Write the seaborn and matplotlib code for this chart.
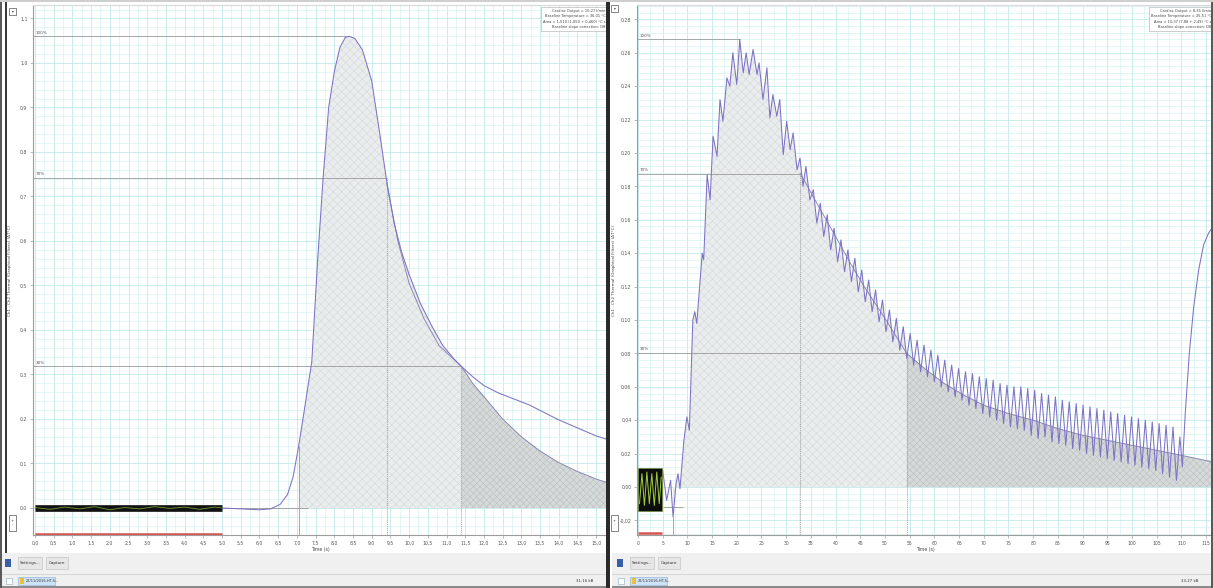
"""
Two thermodilution recordings side by side, drawn like the acquisition software window.
"""

import matplotlib

matplotlib.use("Agg")

import matplotlib.pyplot as plt
import numpy as np
import seaborn as sns
from matplotlib.patches import Rectangle
from matplotlib.ticker import FuncFormatter, MultipleLocator

W, H = 1213, 588

# ---- left recording (time in s, temperature change in °C) ----
left_time = [5.0, 5.5, 6.0, 6.3, 6.55, 6.75, 6.9, 7.05, 7.2, 7.4, 7.55, 7.7, 7.85, 8.0,
             8.15, 8.3, 8.4, 8.55, 8.75, 9.0, 9.2, 9.4, 9.6, 9.8, 10.0, 10.3, 10.6,
             10.9, 11.2, 11.4, 11.7, 12.0, 12.4, 12.8, 13.2, 13.6, 14.0, 14.5, 15.0, 15.3]
left_temp = [0.0, -0.002, -0.004, -0.002, 0.008, 0.03, 0.07, 0.14, 0.22, 0.33, 0.55, 0.74,
             0.9, 0.98, 1.035, 1.058, 1.06, 1.055, 1.03, 0.96, 0.85, 0.735, 0.64, 0.575,
             0.525, 0.46, 0.41, 0.365, 0.335, 0.318, 0.295, 0.275, 0.258, 0.245, 0.232,
             0.215, 0.198, 0.18, 0.162, 0.154]
left_fit_time = [9.4, 9.7, 10.0, 10.4, 10.8, 11.4, 11.7, 12.0, 12.5, 13.0, 13.5, 14.0,
                 14.5, 15.0, 15.3]
left_fit_temp = [0.73, 0.6, 0.505, 0.425, 0.365, 0.318, 0.28, 0.25, 0.2, 0.16, 0.128,
                 0.102, 0.082, 0.065, 0.057]
left_band_time = [0.0, 0.4, 0.8, 1.2, 1.6, 2.0, 2.4, 2.8, 3.2, 3.6, 4.0, 4.4, 4.8, 5.0]
left_band_temp = [0.001, -0.003, 0.002, -0.002, 0.003, -0.004, 0.001, -0.002, 0.003,
                  -0.001, 0.002, -0.003, 0.002, 0.0]
left_marks = {"start": 7.05, "t70": 9.4, "t30": 11.4, "peak": 1.06, "peak_t": 8.4}
left_info = ["Cardiac Output = 10,27 l/min", "Baseline Temperature = 36,01 °C",
             "Area = 1,510 (1,050 + 0,460) °C.s", "Baseline slope correction: Off"]

# ---- right recording ----
right_rise_time = [5.0, 5.8, 6.6, 7.1, 7.7, 8.1, 8.5, 9.3, 9.9, 10.4, 11.1, 11.5, 11.9,
                   13.0, 13.3, 14.0, 14.6, 15.2, 16.0, 16.6, 17.2, 18.0, 18.6, 19.2, 20.0,
                   20.6, 21.3, 21.9, 22.5, 23.3, 24.1, 24.5, 25.3, 26.1, 26.7, 27.3, 28.1,
                   28.7, 29.4, 30.1, 30.8, 31.4, 32.2, 32.8, 33.4, 34.0, 34.8]
right_rise_temp = [0.010, -0.008, 0.004, -0.018, 0.002, 0.008, -0.001, 0.028, 0.042,
                   0.034, 0.100, 0.105, 0.098, 0.140, 0.136, 0.187, 0.172, 0.210, 0.198,
                   0.232, 0.219, 0.245, 0.240, 0.260, 0.241, 0.268, 0.248, 0.260, 0.247,
                   0.262, 0.247, 0.254, 0.232, 0.251, 0.221, 0.235, 0.222, 0.232, 0.199,
                   0.219, 0.202, 0.212, 0.190, 0.197, 0.180, 0.192, 0.172]
# tail sampled every 0.7 s from 35.5 s
right_tail_start, right_tail_step = 35.5, 0.7
right_tail_temp = [
    0.178, 0.158, 0.170, 0.150, 0.163, 0.142, 0.155, 0.135, 0.148, 0.129, 0.142, 0.123,
    0.137, 0.117, 0.130, 0.111, 0.124, 0.105, 0.118, 0.099, 0.112, 0.093, 0.106, 0.087,
    0.101, 0.082, 0.096, 0.077, 0.092, 0.073, 0.088, 0.069, 0.085, 0.066, 0.082, 0.063,
    0.079, 0.060, 0.076, 0.057, 0.073, 0.054, 0.071, 0.052, 0.069, 0.049, 0.068, 0.047,
    0.066, 0.044, 0.065, 0.042, 0.064, 0.040, 0.062, 0.038, 0.061, 0.036, 0.060, 0.035,
    0.060, 0.034, 0.059, 0.031, 0.058, 0.029, 0.056, 0.030, 0.055, 0.027, 0.054, 0.026,
    0.052, 0.025, 0.051, 0.023, 0.050, 0.022, 0.049, 0.020, 0.048, 0.019, 0.047, 0.018,
    0.046, 0.017, 0.045, 0.016, 0.044, 0.015, 0.043, 0.014, 0.042, 0.013, 0.041, 0.012,
    0.040, 0.011, 0.039, 0.010, 0.038, 0.008, 0.037, 0.006, 0.036, 0.004, 0.030]
right_end_time = [110.2, 110.8, 111.6, 112.5, 113.5, 114.5, 115.5, 116.4]
right_end_temp = [0.012, 0.045, 0.080, 0.108, 0.130, 0.145, 0.152, 0.156]
right_fit_time = [32.8, 36.0, 40.0, 43.0, 46.0, 50.0, 54.4, 58.0, 62.0, 66.0, 70.0, 75.0,
                  80.0, 85.0, 90.0, 95.0, 100.0, 105.0, 110.0, 116.4]
right_fit_temp = [0.188, 0.171, 0.150, 0.134, 0.119, 0.101, 0.080, 0.071, 0.062, 0.055,
                  0.049, 0.044, 0.040, 0.035, 0.031, 0.028, 0.025, 0.022, 0.019, 0.015]
thumb_time = [0.3, 0.8, 1.3, 1.8, 2.3, 2.8, 3.3, 3.8, 4.3, 4.7]
thumb_temp = [-0.010, 0.008, -0.011, 0.009, -0.010, 0.008, -0.011, 0.009, -0.010, 0.006]
right_marks = {"start": 7.1, "t70": 32.8, "t30": 54.4, "peak": 0.268, "peak_t": 20.6}
right_info = ["Cardiac Output = 8,35 l/min", "Baseline Temperature = 35,51 °C",
              "Area = 10,37 (7,88 + 2,49) °C.s", "Baseline slope correction: Off"]

CURVE = "#7d72c4"
GRAY = "#9a9a9a"

sns.set_style("white")
plt.rcParams["font.family"] = ["DejaVu Sans"]
plt.rcParams["hatch.linewidth"] = 0.35

fig = plt.figure(figsize=(W / 100, H / 100), dpi=100, facecolor="white")


def px_axes(x0, y0, x1, y1):
    return fig.add_axes([x0 / W, 1 - y1 / H, (x1 - x0) / W, (y1 - y0) / H])


def px_rect(x0, y0, x1, y1, **kw):
    fig.add_artist(Rectangle((x0 / W, 1 - y1 / H), (x1 - x0) / W, (y1 - y0) / H,
                             transform=fig.transFigure, **kw))


def px_text(x, y, s, **kw):
    fig.text(x / W, 1 - y / H, s, **kw)


def comma(fmt):
    return FuncFormatter(lambda v, _: fmt.format(v).replace(".", ","))


def draw_panel(ax, t, v, fit_t, fit_v, marks, xlim, ylim, steps, fmts, info, label_x):
    t, v = np.asarray(t), np.asarray(v)
    fit_t, fit_v = np.asarray(fit_t), np.asarray(fit_v)
    ax.set_xlim(*xlim)
    ax.set_ylim(*ylim)
    ax.set_facecolor("white")

    xmaj, xmin, ymaj, ymin = steps
    ax.xaxis.set_major_locator(MultipleLocator(xmaj))
    ax.xaxis.set_minor_locator(MultipleLocator(xmin))
    ax.yaxis.set_major_locator(MultipleLocator(ymaj))
    ax.yaxis.set_minor_locator(MultipleLocator(ymin))
    ax.xaxis.set_major_formatter(comma(fmts[0]))
    ax.yaxis.set_major_formatter(comma(fmts[1]))
    ax.grid(which="major", color="#bce8e8", linewidth=0.55)
    ax.grid(which="minor", color="#d6f3f3", linewidth=0.5)
    ax.set_axisbelow(True)
    ax.tick_params(which="major", labelsize=3.3, length=2, width=0.4, color="#888888",
                   labelcolor="#555555", pad=2, bottom=True, left=True)
    ax.tick_params(which="minor", length=0)
    for side, sp in ax.spines.items():
        sp.set_color("#9c9c9c" if side in ("left", "bottom") else "#d8d8d8")
        sp.set_linewidth(0.8)

    # shaded areas: measured part, then extrapolated tail
    m = (t >= marks["start"]) & (t <= marks["t30"])
    ax.fill_between(t[m], 0, v[m], facecolor="#eaeded", edgecolor="#d2d7d7",
                    hatch="xxxx", linewidth=0, zorder=1)
    fm = fit_t >= marks["t30"]
    ax.fill_between(fit_t[fm], 0, fit_v[fm], facecolor="#d5d9d9", edgecolor="#b8bebe",
                    hatch="xxxxx", linewidth=0, zorder=1)

    # percentage levels and markers
    peak = marks["peak"]
    for frac, tx, lab in [(1.0, marks["peak_t"], "100%"), (0.7, marks["t70"], "70%"),
                          (0.3, marks["t30"], "30%")]:
        ax.hlines(frac * peak, xlim[0], tx, color=GRAY, linewidth=0.6, zorder=2)
        ax.annotate(lab, (xlim[0], frac * peak), xytext=(2, 1), textcoords="offset points",
                    fontsize=3, color="#555555", va="bottom")
    ax.vlines(marks["start"], ylim[0], np.interp(marks["start"], t, v), color=GRAY,
              linewidth=0.6, zorder=2)
    ax.vlines(marks["t70"], ylim[0], 0.7 * peak, color=GRAY, linewidth=0.5,
              linestyle=(0, (2, 1)), zorder=2)
    ax.vlines(marks["t30"], ylim[0], 0.3 * peak, color=GRAY, linewidth=0.5,
              linestyle=(0, (2, 1)), zorder=2)

    sns.lineplot(x=fit_t, y=fit_v, ax=ax, color="#8c88b4", linewidth=0.7,
                 estimator=None, sort=False, zorder=3)
    sns.lineplot(x=t, y=v, ax=ax, color=CURVE, linewidth=0.75,
                 estimator=None, sort=False, zorder=4)

    ax.set_xlabel("Time (s)", fontsize=3.3, color="#444444", labelpad=1)
    ax.set_ylabel("Ch1 - Ch2 Thermal (Graphical Filters) (ΔT°C)", fontsize=3,
                  color="#444444")
    ax.yaxis.set_label_coords(label_x, 0.5)

    # info box in the top-right corner
    ax.text(0.997, 0.993, "\n".join(info), transform=ax.transAxes, ha="right", va="top",
            fontsize=2.6, color="#444444", linespacing=1.5, zorder=6,
            bbox=dict(boxstyle="square,pad=0.4", facecolor="white", edgecolor="#aaaaaa",
                      linewidth=0.4))


# ---------------- left panel ----------------
axl = px_axes(33, 5, 607, 535)
draw_panel(axl, left_time, left_temp, left_fit_time, left_fit_temp, left_marks,
           xlim=(-0.053, 15.29), ylim=(-0.0607, 1.1303), steps=(0.5, 0.25, 0.1, 0.02),
           fmts=("{:.1f}", "{:.1f}"), info=left_info, label_x=-21 / 574)
axl.hlines(0, 5.0, 7.3, color=GRAY, linewidth=0.6, zorder=2)
axl.plot([0.0, 5.0], [0.0, 0.0], color="#111111", linewidth=4.8,
         solid_capstyle="butt", zorder=5)
sns.lineplot(x=left_band_time, y=left_band_temp, ax=axl, color="#6f9a3a", linewidth=0.6,
             estimator=None, sort=False, zorder=5)
axl.hlines(-0.0585, 0.0, 5.0, color="#d9534f", linewidth=1.8, zorder=5)

# ---------------- right panel ----------------
tail_time = right_tail_start + right_tail_step * np.arange(len(right_tail_temp))
right_time = np.concatenate([right_rise_time, tail_time, right_end_time])
right_temp = np.concatenate([right_rise_temp, right_tail_temp, right_end_temp])
axr = px_axes(637, 5, 1213, 535)
draw_panel(axr, right_time, right_temp, right_fit_time, right_fit_temp, right_marks,
           xlim=(-0.2, 116.4), ylim=(-0.0287, 0.2886), steps=(5, 2.5, 0.02, 0.004),
           fmts=("{:.0f}", "{:.2f}"), info=right_info, label_x=-21 / 576)
axr.hlines(-0.012, 5.06, 9.1, color="#8fa27a", linewidth=0.6, zorder=3)
axr.add_patch(Rectangle((0.0, -0.0144), 4.9, 0.0258, facecolor="#0d0d0d",
                        edgecolor="#6a8a3a", linewidth=0.5, zorder=5))
sns.lineplot(x=thumb_time, y=thumb_temp, ax=axr, color="#9fcf3a", linewidth=0.7,
             estimator=None, sort=False, zorder=6)
axr.hlines(-0.0278, 0.0, 4.9, color="#d9534f", linewidth=1.8, zorder=5)

# ---------------- window chrome ----------------
for x0, x1 in [(0, 608), (612, 1213)]:
    px_rect(x0, 553, x1, 588, facecolor="#f0f0f0", edgecolor="none")
    px_rect(x0, 574, x1, 575, facecolor="#d6d6d6", edgecolor="none")
    px_rect(x0, 586, x1, 588, facecolor="#8a8a8a", edgecolor="none")
    px_rect(x0 + 18, 557, x0 + 42, 569, facecolor="#e6e6e6", edgecolor="#bdbdbd",
            linewidth=0.4)
    px_text(x0 + 30, 563, "Settings...", fontsize=3, ha="center", va="center",
            color="#333333")
    px_rect(x0 + 46, 557, x0 + 68, 569, facecolor="#e6e6e6", edgecolor="#bdbdbd",
            linewidth=0.4)
    px_text(x0 + 57, 563, "Capture", fontsize=3, ha="center", va="center", color="#333333")
    px_rect(x0 + 5, 559, x0 + 11, 567, facecolor="#3b5ea8", edgecolor="none")
    px_rect(x0 + 18, 577, x0 + 55, 585, facecolor="#cfe3f7", edgecolor="#7fa7d6",
            linewidth=0.4)
    px_rect(x0 + 20, 578, x0 + 24, 584, facecolor="#e8c33a", edgecolor="none")
    px_text(x0 + 26, 581, "22/11/2016-HT-S...", fontsize=2.6, va="center", color="#333333")
    px_rect(x0 + 6, 578, x0 + 12, 584, facecolor="#ffffff", edgecolor="#8aa8c8",
            linewidth=0.4)

px_text(585, 581, "31,16 kB", fontsize=2.8, ha="center", va="center", color="#333333")
px_text(1190, 581, "33,27 kB", fontsize=2.8, ha="center", va="center", color="#333333")

# borders and dividers
px_rect(0, 0, 2, 588, facecolor="#5a5a5a", edgecolor="none")
px_rect(5, 0, 7, 553, facecolor="#3a3a3a", edgecolor="none")
px_rect(606, 0, 610, 588, facecolor="#2a2a2a", edgecolor="none")
px_rect(1211, 0, 1213, 588, facecolor="#5a5a5a", edgecolor="none")
px_rect(0, 0, 1213, 2, facecolor="#cfcfcf", edgecolor="none")

# small scroll controls
for x0, y0, y1, s in [(9, 8, 15, "▾"), (611, 5, 12, "▾"), (9, 515, 531, "+\n-"),
                      (611, 515, 531, "+\n-")]:
    px_rect(x0, y0, x0 + 7, y1, facecolor="white", edgecolor="#555555", linewidth=0.5)
    px_text(x0 + 3.5, (y0 + y1) / 2, s, fontsize=2.6, ha="center", va="center",
            linespacing=0.9, color="#333333")

fig.savefig("out.png", dpi=100)
plt.close(fig)
